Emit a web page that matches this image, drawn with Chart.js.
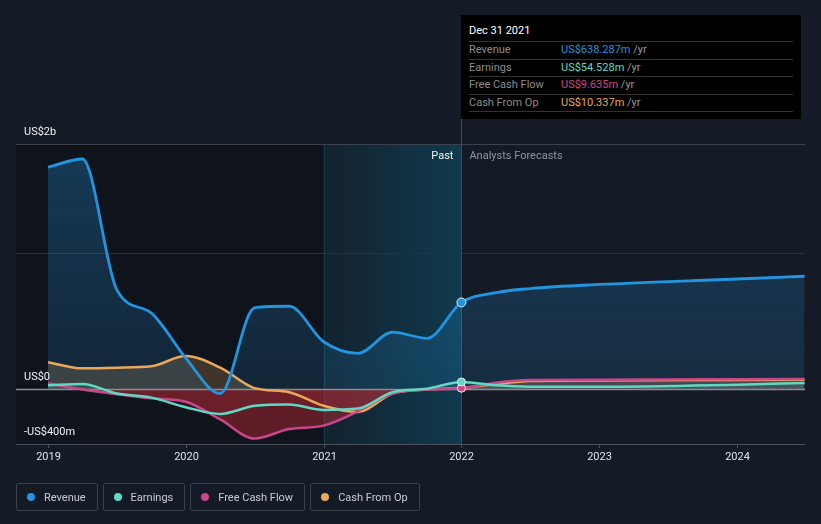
<!DOCTYPE html>
<html>
<head>
<meta charset="utf-8">
<script src="https://cdn.jsdelivr.net/npm/chart.js@4.4.1/dist/chart.umd.min.js"></script>
<style>
  html, body { margin: 0; padding: 0; background: #151b26; }
  body { width: 821px; height: 524px; position: relative; overflow: hidden; font-family: Roboto, "Noto Sans", sans-serif; }
  #wrap { position: absolute; left: 0; top: 0; width: 821px; height: 524px; }
  #tip { position: absolute; left: 461px; top: 15px; width: 340px; height: 104px; background: #000; }
  #tip .title { position: absolute; left: 8px; top: 9px; font-size: 11px; color: #fff; }
  #tip .rows { position: absolute; left: 8px; right: 8px; top: 26px; border-bottom: 1px solid #333; }
  #tip .row { height: 16.5px; line-height: 16.5px; border-top: 1px solid #333; font-size: 11px; position: relative; }
  #tip .row .lab { position: absolute; left: 0; color: #8c8c8c; }
  #tip .row .val { position: absolute; left: 92px; }
  #tip .row .unit { color: #999; }
  #legend { position: absolute; left: 16px; top: 483px; display: flex; gap: 5px; }
  .item { height: 26px; border: 1px solid #3a404b; border-radius: 2px; display: flex; align-items: center; padding: 0 11px 0 10px; font-size: 11px; color: #c8cbd0; }
  .dot { width: 8px; height: 8px; border-radius: 50%; margin-right: 9px; }
</style>
</head>
<body>
<div id="wrap"><canvas id="chart" width="821" height="524"></canvas></div>

<div id="tip">
  <div class="title">Dec 31 2021</div>
  <div class="rows">
    <div class="row"><span class="lab">Revenue</span><span class="val"><span style="color:#2394df">US$638.287m</span> <span class="unit">/yr</span></span></div>
    <div class="row"><span class="lab">Earnings</span><span class="val"><span style="color:#5fd9c4">US$54.528m</span> <span class="unit">/yr</span></span></div>
    <div class="row"><span class="lab">Free Cash Flow</span><span class="val"><span style="color:#c8478a">US$9.635m</span> <span class="unit">/yr</span></span></div>
    <div class="row"><span class="lab">Cash From Op</span><span class="val"><span style="color:#e8a95b">US$10.337m</span> <span class="unit">/yr</span></span></div>
  </div>
</div>

<div id="legend">
  <div class="item"><span class="dot" style="background:#2394df"></span>Revenue</div>
  <div class="item"><span class="dot" style="background:#5fd9c4"></span>Earnings</div>
  <div class="item"><span class="dot" style="background:#c8478a"></span>Free Cash Flow</div>
  <div class="item"><span class="dot" style="background:#e8a95b"></span>Cash From Op</div>
</div>

<script>
// time axis in decimal years, values in US$ billions
const DATES = [2019, 2019.25, 2019.5, 2019.75, 2020, 2020.25, 2020.5, 2020.75, 2021, 2021.25, 2021.5, 2021.75, 2022,
               2022.25, 2022.5, 2023, 2024, 2024.49];
const REVENUE = [1.63, 1.69, 0.73, 0.56, 0.23, -0.03, 0.60, 0.61, 0.35, 0.265, 0.42, 0.375, 0.638,
                 0.71, 0.74, 0.77, 0.81, 0.83];
const EARNINGS = [0.03, 0.04, -0.03, -0.06, -0.13, -0.18, -0.12, -0.11, -0.15, -0.14, -0.02, 0.005, 0.055,
                  0.03, 0.02, 0.02, 0.035, 0.047];
const FCF = [0.045, 0.0, -0.035, -0.065, -0.09, -0.22, -0.36, -0.29, -0.265, -0.16, -0.03, 0.0, 0.0096,
             0.05, 0.07, 0.072, 0.075, 0.077];
const CFO = [0.20, 0.155, 0.16, 0.17, 0.245, 0.16, 0.01, -0.02, -0.12, -0.165, -0.03, 0.0, 0.0103,
             0.04, 0.062, 0.066, 0.069, 0.071];

const YEAR_TICKS = [2019, 2020, 2021, 2022, 2023, 2024];
const Y_LABELS = [[1.8, "US$2b"], [0, "US$0"], [-0.4, "-US$400m"]];
const GRID_VALUES = [1.8, 1.0];
const PAST_START = 2021;
const NOW = 2022;

const COLORS = { revenue: "#2394df", earnings: "#5fd9c4", fcf: "#c8478a", cfo: "#e8a95b" };

function pts(values) {
  return values.map((v, i) => ({ x: DATES[i], y: v }));
}

function markerRadius(r) {
  return (ctx) => (DATES[ctx.dataIndex] === NOW ? r : 0);
}

function revenueFill(ctx) {
  const a = ctx.chart.chartArea;
  if (!a) return "rgba(35,148,223,0.2)";
  const g = ctx.chart.ctx.createLinearGradient(0, a.top, 0, a.bottom);
  g.addColorStop(0, "rgba(35,148,223,0.30)");
  g.addColorStop(1, "rgba(35,148,223,0.10)");
  return g;
}

function lineSet(label, values, color, fillAbove, fillBelow, width, r) {
  return {
    label,
    data: pts(values),
    borderColor: color,
    borderWidth: width,
    backgroundColor: fillAbove,
    fill: { target: "origin", above: fillAbove, below: fillBelow },
    cubicInterpolationMode: "monotone",
    pointRadius: markerRadius(r),
    pointHoverRadius: 0,
    pointBackgroundColor: color,
    pointBorderColor: "#e8e8e8",
    pointBorderWidth: 1,
  };
}

const decor = {
  id: "decor",
  beforeDraw(chart) {
    const { ctx, chartArea: a, scales: { x, y } } = chart;
    ctx.save();
    const xp = x.getPixelForValue(PAST_START);
    const xn = x.getPixelForValue(NOW);
    // darker past region
    ctx.fillStyle = "rgba(0,0,0,0.25)";
    ctx.fillRect(a.left, a.top, xp - a.left, a.bottom - a.top);
    // highlighted last year
    const g = ctx.createLinearGradient(xp, 0, xn, 0);
    g.addColorStop(0, "rgba(0,150,190,0.06)");
    g.addColorStop(1, "rgba(0,150,200,0.26)");
    ctx.fillStyle = g;
    ctx.fillRect(xp, a.top, xn - xp, a.bottom - a.top);
    // gridlines
    GRID_VALUES.forEach((v, i) => {
      const yy = Math.round(y.getPixelForValue(v)) + 0.5;
      ctx.strokeStyle = i === 0 ? "#3c424c" : "#2a313b";
      ctx.lineWidth = 1;
      ctx.beginPath();
      ctx.moveTo(a.left, yy);
      ctx.lineTo(a.right, yy);
      ctx.stroke();
    });
    // vertical markers
    ctx.strokeStyle = "rgba(40,110,130,0.35)";
    ctx.beginPath();
    ctx.moveTo(Math.round(xp) + 0.5, a.top);
    ctx.lineTo(Math.round(xp) + 0.5, a.bottom);
    ctx.stroke();
    ctx.strokeStyle = "#2a5566";
    ctx.beginPath();
    ctx.moveTo(Math.round(xn) + 0.5, 119);
    ctx.lineTo(Math.round(xn) + 0.5, a.bottom);
    ctx.stroke();
    ctx.restore();
  },
  beforeDatasetsDraw(chart) {
    const { ctx, chartArea: a, scales: { y } } = chart;
    ctx.save();
    const y0 = y.getPixelForValue(0);
    ctx.strokeStyle = "#8a8d93";
    ctx.lineWidth = 1.5;
    ctx.beginPath();
    ctx.moveTo(a.left, y0);
    ctx.lineTo(a.right, y0);
    ctx.stroke();
    ctx.restore();
  },
  afterDraw(chart) {
    const { ctx, chartArea: a, scales: { x, y } } = chart;
    ctx.save();
    // x axis
    ctx.strokeStyle = "#4a505a";
    ctx.lineWidth = 1;
    ctx.beginPath();
    ctx.moveTo(a.left, a.bottom + 0.5);
    ctx.lineTo(a.right, a.bottom + 0.5);
    ctx.stroke();
    ctx.font = "11px Roboto, sans-serif";
    ctx.fillStyle = "#dfe1e4";
    ctx.textAlign = "center";
    ctx.textBaseline = "middle";
    YEAR_TICKS.forEach((t) => {
      const xx = Math.round(x.getPixelForValue(t)) + 0.5;
      ctx.beginPath();
      ctx.moveTo(xx, a.bottom);
      ctx.lineTo(xx, a.bottom + 4);
      ctx.stroke();
      ctx.fillText(String(t), xx, 457);
    });
    // y labels
    ctx.textAlign = "left";
    ctx.fillStyle = "#eef0f2";
    Y_LABELS.forEach(([v, txt]) => {
      ctx.fillText(txt, 24, y.getPixelForValue(v) - 12);
    });
    // past / forecast labels
    const xn = x.getPixelForValue(NOW);
    ctx.textAlign = "right";
    ctx.fillStyle = "#f4f4f4";
    ctx.fillText("Past", xn - 8, 156);
    ctx.textAlign = "left";
    ctx.fillStyle = "#8d929a";
    ctx.fillText("Analysts Forecasts", xn + 8, 156);
    ctx.restore();
  },
};

new Chart(document.getElementById("chart"), {
  type: "line",
  data: {
    datasets: [
      lineSet("Revenue", REVENUE, COLORS.revenue, revenueFill, "rgba(35,148,223,0.15)", 2.8, 4.5),
      lineSet("Earnings", EARNINGS, COLORS.earnings, "rgba(95,217,196,0.10)", "rgba(200,45,55,0.12)", 2.5, 4),
      lineSet("Free Cash Flow", FCF, COLORS.fcf, "rgba(200,71,138,0.08)", "rgba(205,45,55,0.42)", 2.5, 4),
      lineSet("Cash From Op", CFO, COLORS.cfo, "rgba(232,169,91,0.22)", "rgba(200,45,55,0.10)", 2.5, 4),
    ],
  },
  options: {
    responsive: false,
    animation: false,
    layout: { padding: { left: 16, right: 16, top: 144, bottom: 80 } },
    scales: {
      x: { type: "linear", min: 2018.768, max: 2024.493, display: false },
      y: { min: -0.4, max: 1.8, display: false },
    },
    plugins: {
      legend: { display: false },
      tooltip: { enabled: false },
      filler: { drawTime: "beforeDatasetsDraw" },
    },
  },
  plugins: [decor],
});
</script>
</body>
</html>
